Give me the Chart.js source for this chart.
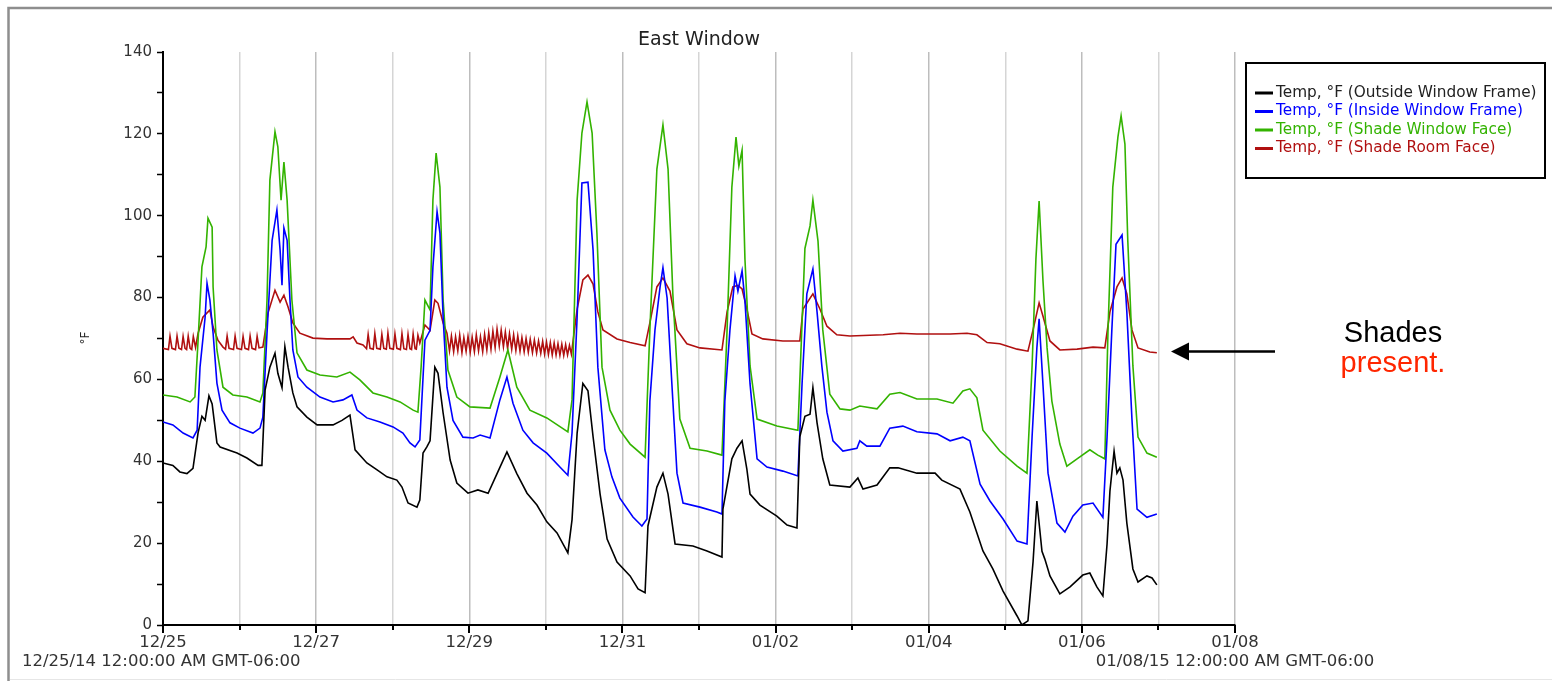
<!DOCTYPE html>
<html>
<head>
<meta charset="utf-8">
<title>East Window</title>
<script src="https://cdn.jsdelivr.net/npm/chart.js@4.4.1/dist/chart.umd.min.js"></script>
<style>
  html, body { margin: 0; padding: 0; background: #fff; }
  #chart { display: block; }
</style>
</head>
<body>
<canvas id="chart" width="1552" height="682"></canvas>
<script>
// hours since 12/25/14 00:00, temperature in °F
const outsideFrame = [
  [0,39.6],[3.1,39],[5.3,37.4],[7.5,37],[9.4,38.3],[11.0,47],[12.2,51],[13.2,50],[14.4,56],[15.4,54],
  [16.9,44.5],[17.9,43.5],[23.2,42],[26.3,40.8],[29.8,39],[31.0,39],[32.0,57.4],[33.5,63],[35.1,66.4],
  [36.0,61.5],[37.3,58],[38.2,68],[39.2,63],[40.7,56.7],[42.0,53.3],[45.1,50.8],[48.3,48.9],[53.3,48.9],
  [56.1,50],[58.6,51.3],[60.2,42.8],[63.9,39.6],[67.1,37.9],[70.2,36.2],[73.3,35.4],[74.9,33.7],
  [76.8,29.8],[79.6,28.8],[80.5,30.5],[81.5,42],[82.7,43.5],[83.7,45],[85.2,63],[86.2,61.5],[87.8,51.8],
  [90.0,40.3],[92.1,34.7],[95.6,32.2],[98.7,33],[101.9,32.2],[104.7,37],[107.8,42.3],[110.9,37],
  [114.1,32.2],[117.2,29.3],[120.3,25.2],[123.5,22.5],[126.9,17.6],[128.2,25.7],[129.8,46.9],
  [131.6,59],[133.2,57.2],[134.8,46],[137.0,32],[139.2,21],[142.3,15.4],[146.4,12],[148.9,8.8],
  [151.1,7.9],[152.0,24.2],[154.8,33.7],[156.7,37.1],[158.3,32],[160.5,19.8],[166.1,19.3],[170.5,18.1],
  [175.2,16.6],[175.5,28.3],[178.3,40.6],[179.9,43.2],[181.5,45],[183.0,38.1],[184.0,32],[187.1,29.3],
  [192.4,26.6],[195.6,24.4],[198.7,23.7],[199.6,46],[201.2,51],[202.8,51.5],[203.7,58],[205.0,49.4],
  [206.8,40.6],[209.0,34.2],[215.3,33.7],[217.8,35.9],[219.4,33.2],[223.8,34.2],[227.8,38.4],
  [230.4,38.4],[236.3,37.1],[242.0,37.1],[244.1,35.4],[249.8,33.2],[252.9,27.6],[257.0,18.1],
  [260.1,13.7],[263.3,8.3],[267.7,2.2],[269.2,0],[271.1,1],[272.7,15.4],[273.9,30.3],[275.5,18],
  [276.4,16.1],[278.0,12],[281.1,7.6],[284.3,9.3],[288.3,12.2],[290.5,12.7],[292.7,9.3],[294.6,7.1],
  [295.9,19.8],[296.8,32.7],[298.1,42.5],[299.0,37.1],[299.9,38.4],[300.9,35.4],[302.1,24.9],
  [304.0,13.7],[305.6,10.5],[308.4,12],[310.0,11.5],[311.5,9.8]
];

const insideFrame = [
  [0,49.6],[3.1,48.9],[6.3,46.9],[9.4,45.7],[10.7,47.6],[11.6,63],[13.2,75.2],[13.8,83.5],[14.7,79.4],
  [15.7,71.3],[16.9,59.1],[18.5,52.5],[21.0,49.4],[24.1,48.1],[28.2,46.9],[30.4,48.1],[31.3,50.8],
  [32.6,71.3],[34.2,94],[35.7,101.4],[36.7,91.6],[37.3,83],[37.9,97],[38.9,94],[39.8,79.4],[40.7,67.2],
  [42.3,60.6],[45.1,58.1],[49.2,55.7],[53.3,54.5],[56.4,55],[59.2,56.2],[60.8,52.5],[63.9,50.6],
  [68.0,49.6],[72.1,48.4],[75.2,46.9],[77.4,44.5],[79.0,43.5],[80.5,45.2],[82.1,69.6],[83.7,72],
  [84.6,87.5],[85.9,101],[86.8,95.8],[87.8,75.2],[89.0,58.1],[90.9,50],[94.0,45.9],[97.2,45.7],
  [99.4,46.4],[102.5,45.7],[105.6,55],[107.8,60.6],[109.7,54.2],[112.8,47.6],[116.0,44.5],[120.3,42],
  [124.4,38.6],[126.9,36.6],[128.2,46.9],[129.8,75.2],[131.3,108],[133.2,108.2],[134.8,91.6],
  [136.3,63],[138.5,42.8],[140.7,36.2],[143.2,31],[147.3,26.4],[150.1,24.2],[151.7,25.9],[152.6,54.7],
  [154.2,72.1],[155.8,82.6],[156.7,87.3],[158.0,79.9],[159.5,58.9],[161.1,37.1],[163.0,29.8],
  [168.3,28.8],[173.6,27.6],[175.2,27.1],[176.1,54.7],[177.7,72.1],[179.3,85.3],[180.2,81.6],
  [181.5,86.5],[182.4,79.2],[184.0,58.9],[186.2,40.6],[189.3,38.6],[194.3,37.6],[199.0,36.4],
  [200.3,58.9],[201.8,80.9],[203.7,87],[205.0,76.5],[206.5,63.3],[208.1,52],[210.0,45],[213.1,42.5],
  [217.5,43.2],[218.4,45],[220.6,43.7],[224.7,43.7],[227.8,48.1],[231.9,48.6],[236.3,47.2],
  [242.6,46.7],[246.7,45],[250.7,45.9],[252.9,45],[256.1,34.4],[259.2,30.3],[263.3,25.9],[267.7,20.5],
  [270.8,19.8],[272.4,46],[273.9,67.7],[274.6,74.8],[275.8,58.9],[277.4,37.1],[280.2,24.9],
  [282.7,22.7],[285.2,26.6],[288.3,29.3],[291.5,29.8],[294.6,26.3],[295.9,45.9],[297.4,72.1],
  [298.7,93],[300.6,95.3],[302.1,76.5],[303.7,50.3],[305.3,28.3],[308.4,26.3],[311.5,27.1]
];

const shadeWindow = [
  [0,56.2],[4.4,55.7],[8.5,54.5],[10.0,55.7],[11.0,69.6],[12.2,87.5],[13.5,92.4],[14.1,99.4],
  [15.4,97.2],[15.7,82.6],[16.9,67.2],[18.8,58.1],[21.9,56.2],[26.3,55.7],[30.4,54.5],[31.3,56.7],
  [32.6,79.4],[33.5,108.7],[35.1,120.5],[36.0,116.8],[37.0,103.8],[37.9,113.1],[38.9,103.8],
  [40.4,79.4],[42.0,66.5],[45.1,62.3],[49.2,61.1],[54.5,60.6],[58.6,61.8],[61.7,59.9],[65.8,56.7],
  [70.2,55.7],[74.3,54.5],[78.4,52.5],[79.9,52],[80.9,63],[82.1,79.4],[83.7,77],[84.6,103.8],
  [85.6,115.3],[86.8,107],[87.8,79.4],[89.3,62.3],[92.1,55.7],[96.2,53.3],[102.5,53],[105.6,60.6],
  [108.1,67.2],[110.9,58.1],[115.0,52.5],[120.3,50.6],[126.9,47.2],[128.2,55],[129.8,103.8],
  [131.3,120.2],[132.9,127.8],[134.5,120.2],[136.0,95.8],[137.6,63],[140.1,52.5],[143.2,47.6],
  [146.4,44.2],[151.1,41],[152.6,72.1],[154.8,111.4],[156.7,122.2],[158.3,111.4],[159.8,80.9],
  [162.0,50.3],[165.2,43.2],[170.5,42.5],[175.2,41.5],[176.8,72.1],[178.3,107],[179.6,119.2],
  [180.5,112.1],[181.5,116],[182.4,89.4],[184.0,63.3],[186.2,50.3],[192.4,48.6],[199.0,47.6],
  [201.2,92],[202.8,97.5],[203.7,103.8],[205.3,93.8],[206.8,72.1],[209.0,56.4],[212.2,52.8],
  [215.3,52.5],[218.4,53.5],[223.8,52.8],[227.8,56.4],[231.0,56.8],[236.3,55.2],[242.6,55.2],
  [247.6,54.2],[250.7,57.2],[252.9,57.7],[255.1,55.5],[257.0,47.6],[262.3,42.5],[267.7,38.8],
  [270.8,37.1],[272.4,63.3],[273.6,89.4],[274.6,103.6],[275.8,84.3],[277.1,67.7],[278.6,54.7],
  [281.1,44.2],[283.3,38.8],[286.5,40.6],[290.5,42.8],[293.0,41.5],[295.2,40.6],[296.2,72.1],
  [297.7,107],[299.3,119.2],[300.3,124.4],[301.5,117.5],[302.4,93.8],[304.0,63.3],[305.6,45.9],
  [308.4,42],[311.5,41]
];

const shadeRoom = [
  [0,67.6],[1.7,67.3],[2.2,70.6],[2.8,67.6],[3.9,67.3],[4.4,70.6],[5.0,67.6],[5.8,67.3],[6.3,70.5],
  [6.9,67.6],[7.4,67.3],[7.9,70.6],[8.5,67.6],[9.0,67.3],[9.5,70.5],[10.2,67.8],
  [11.0,71.3],[12.5,75.2],[14.7,77.0],[15.7,72.8],[17.2,69.6],[18.8,67.9],
  [19.6,67.4],[20.1,70.6],[20.7,67.6],[22.1,67.3],[22.6,70.6],[23.2,67.6],[24.6,67.3],[25.1,70.5],
  [25.7,67.6],[26.8,67.3],[27.3,70.6],[27.9,67.6],[29.0,67.3],[29.5,70.5],[30.1,67.7],
  [31.3,67.9],[32.9,76.2],[35.1,81.8],[36.7,78.9],[37.9,80.6],[39.2,77.7],[40.7,73.8],[42.9,71.3],
  [47.0,70.1],[51.4,69.9],[58.6,69.9],[59.6,70.4],[60.8,68.9],[62.7,68.4],
  [63.8,67.5],[64.3,71.0],[64.9,67.6],[65.9,67.4],[66.4,71.2],[67.0,67.6],[68.1,67.4],[68.6,71.0],
  [69.2,67.6],[70.0,67.4],[70.5,71.3],[71.1,67.6],[72.2,67.4],[72.7,71.1],[73.3,67.6],[74.4,67.3],
  [74.9,71.2],[75.5,67.5],[76.3,67.3],[76.8,71.0],[77.4,67.5],[77.9,67.3],[78.4,71.1],[79.0,67.5],
  [79.4,67.4],[79.9,70.8],[80.5,68.9],
  [82.1,73.3],[83.7,72.0],[85.2,79.4],[86.2,78.6],[87.8,73.8],[89.0,71.3],
  [89.8,67.0],[90.4,70.6],[91.1,66.8],[91.7,70.4],[92.4,67.0],[93.0,70.8],[93.7,66.6],[94.3,70.2],
  [95.0,66.9],[95.6,70.5],[96.3,66.7],[96.9,70.3],[97.6,66.8],[98.2,70.9],[98.9,67.0],[99.5,70.4],
  [100.2,66.8],[100.8,71.0],[101.5,67.2],[102.1,71.4],[102.8,67.4],[103.4,71.8],[104.1,67.8],
  [104.7,72.3],[105.4,68.2],[106.0,72.0],[106.7,68.0],[107.3,71.6],[108.0,67.6],[108.6,71.2],
  [109.3,67.4],[109.9,70.9],[110.6,67.1],[111.2,70.6],[111.9,66.9],[112.5,70.2],[113.2,66.8],
  [113.8,70.0],[114.5,66.7],[115.1,69.8],[115.8,66.6],[116.4,69.6],[117.1,66.5],[117.7,69.4],
  [118.4,66.4],[119.0,69.3],[119.6,66.2],[120.2,69.1],[120.8,66.1],[121.4,69.0],[122.0,66.0],
  [122.6,68.9],[123.2,66.0],[123.8,68.7],[124.4,65.9],[125.0,68.6],[125.6,65.9],[126.2,68.5],
  [126.8,66.0],[127.4,68.3],[128.0,66.2],
  [129.8,77.2],[131.6,84.3],[133.2,85.5],[134.8,83.3],[136.3,76.5],[137.9,72.1],[142.3,69.9],
  [146.4,69.0],[151.1,68.2],[152.6,73.8],[154.8,82.6],[156.7,84.8],[158.9,81.6],[161.1,72.1],
  [164.2,68.7],[168.3,67.7],[175.2,67.2],[176.8,76.5],[178.6,82.6],[180.2,83.0],[181.5,82.1],
  [183.0,77.2],[184.6,71.1],[188.0,69.9],[194.3,69.4],[199.6,69.4],[200.6,77.2],[203.7,80.9],
  [205.9,77.2],[208.1,73.0],[211.2,70.9],[215.3,70.6],[225.7,70.9],[231.0,71.3],[236.3,71.1],
  [246.7,71.1],[252.0,71.3],[255.1,70.9],[258.3,69.0],[262.3,68.7],[267.7,67.4],[271.1,66.9],
  [272.7,72.1],[274.6,78.7],[275.8,75.5],[278.0,69.4],[281.1,67.2],[286.5,67.4],[291.5,67.9],
  [295.2,67.7],[296.8,76.5],[299.0,82.6],[300.6,84.8],[302.1,80.9],[303.7,72.1],[305.6,67.7],
  [309.3,66.7],[311.5,66.5]
];

const seriesNames = [
  'Temp, °F (Outside Window Frame)',
  'Temp, °F (Inside Window Frame)',
  'Temp, °F (Shade Window Face)',
  'Temp, °F (Shade Room Face)'
];
const seriesColors = ['#000000', '#0000ff', '#33b300', '#b01010'];
const yTicks = [0, 20, 40, 60, 80, 100, 120, 140];
const startLabel = '12/25/14 12:00:00 AM GMT-06:00';
const endLabel = '01/08/15 12:00:00 AM GMT-06:00';
const totalHours = 14 * 24;

function dayLabel(hours) {
  const d = new Date(2014, 11, 25 + Math.round(hours / 24));
  const mm = String(d.getMonth() + 1).padStart(2, '0');
  const dd = String(d.getDate()).padStart(2, '0');
  return mm + '/' + dd;
}

const decor = {
  id: 'decor',
  beforeDraw(chart) {
    const c = chart.ctx;
    c.save();
    c.strokeStyle = '#8e8e8e';
    c.lineWidth = 2.5;
    c.beginPath();
    c.moveTo(8.5, 681);
    c.lineTo(8.5, 8);
    c.lineTo(1552, 8);
    c.stroke();
    c.strokeStyle = '#e6e6e6';
    c.lineWidth = 1;
    c.beginPath();
    c.moveTo(10, 679.5);
    c.lineTo(1552, 679.5);
    c.stroke();
    c.restore();
  },
  afterDraw(chart) {
    const c = chart.ctx;
    const a = chart.chartArea;
    const xs = chart.scales.x;
    c.save();

    // title
    c.fillStyle = '#222';
    c.font = '19px "DejaVu Sans"';
    c.textAlign = 'center';
    c.textBaseline = 'middle';
    c.fillText('East Window', (a.left + a.right) / 2, 40);

    // y label
    c.save();
    c.translate(86, 338);
    c.rotate(-Math.PI / 2);
    c.font = '12px "DejaVu Sans"';
    c.fillText('°F', 0, 0);
    c.restore();

    // x tick marks (long on labelled days)
    c.strokeStyle = '#000';
    c.lineWidth = 2;
    for (let h = 0; h <= totalHours; h += 24) {
      const px = Math.round(xs.getPixelForValue(h));
      const len = (h / 24) % 2 === 0 ? 8 : 5;
      c.beginPath();
      c.moveTo(px, a.bottom);
      c.lineTo(px, a.bottom + len);
      c.stroke();
    }

    // range labels
    c.fillStyle = '#333';
    c.font = '16.5px "DejaVu Sans"';
    c.textBaseline = 'alphabetic';
    c.textAlign = 'left';
    c.fillText(startLabel, 22, 666);
    c.textAlign = 'center';
    c.fillText(endLabel, xs.getPixelForValue(totalHours), 666);

    // legend box
    c.strokeStyle = '#000';
    c.lineWidth = 2;
    c.strokeRect(1246, 63, 299, 115);
    c.font = '15.3px "DejaVu Sans"';
    c.textAlign = 'left';
    c.textBaseline = 'middle';
    chart.data.datasets.forEach((ds, i) => {
      const y = 93 + i * 18.5;
      c.strokeStyle = ds.borderColor;
      c.lineWidth = 3;
      c.beginPath();
      c.moveTo(1255, y);
      c.lineTo(1273, y);
      c.stroke();
      c.fillStyle = ds.borderColor === '#000000' ? '#222' : ds.borderColor;
      c.fillText(ds.label, 1276, y);
    });

    // annotation arrow
    c.strokeStyle = '#000';
    c.fillStyle = '#000';
    c.lineWidth = 2.5;
    c.beginPath();
    c.moveTo(1275, 351.5);
    c.lineTo(1186, 351.5);
    c.stroke();
    c.beginPath();
    c.moveTo(1171, 351.5);
    c.lineTo(1189, 342.5);
    c.lineTo(1189, 360.5);
    c.closePath();
    c.fill();

    c.font = '29px "Liberation Sans"';
    c.textAlign = 'center';
    c.textBaseline = 'alphabetic';
    c.fillStyle = '#000';
    c.fillText('Shades', 1393, 342);
    c.fillStyle = '#ff2600';
    c.fillText('present.', 1393, 372);
    c.restore();
  }
};

const series = [outsideFrame, insideFrame, shadeWindow, shadeRoom];

new Chart(document.getElementById('chart'), {
  type: 'line',
  data: {
    datasets: series.map((pts, i) => ({
      label: seriesNames[i],
      data: pts.map(p => ({ x: p[0], y: p[1] })),
      borderColor: seriesColors[i],
      borderWidth: 1.6,
      pointRadius: 0,
      tension: 0,
      fill: false
    }))
  },
  options: {
    responsive: false,
    animation: false,
    layout: { padding: { top: 52, right: 317, bottom: 0, left: 0 } },
    plugins: {
      legend: { display: false },
      title: { display: false },
      tooltip: { enabled: false }
    },
    scales: {
      x: {
        type: 'linear',
        min: 0,
        max: totalHours,
        afterFit: s => { s.height = 57; },
        ticks: {
          stepSize: 24,
          autoSkip: false,
          maxRotation: 0,
          padding: 8,
          color: '#333',
          font: { family: 'DejaVu Sans', size: 16.5 },
          callback: v => ((v / 24) % 2 === 0 ? dayLabel(v) : '')
        },
        grid: {
          drawTicks: false,
          lineWidth: 1.5,
          color: ctx => {
            if (!ctx.tick || ctx.tick.value === 0) return 'rgba(0,0,0,0)';
            return (ctx.tick.value / 24) % 2 === 0 ? '#bdbdbd' : '#d5d5d5';
          }
        },
        border: { color: '#000', width: 2 }
      },
      y: {
        min: 0,
        max: 140,
        afterFit: s => { s.width = 163; },
        ticks: {
          stepSize: 10,
          autoSkip: false,
          padding: 5,
          color: '#333',
          font: { family: 'DejaVu Sans', size: 15 },
          callback: v => (yTicks.includes(v) ? String(v) : '')
        },
        grid: {
          drawOnChartArea: false,
          tickLength: 6,
          tickColor: '#000',
          tickWidth: 1.5
        },
        border: { color: '#000', width: 2 }
      }
    }
  },
  plugins: [decor]
});
</script>
</body>
</html>
